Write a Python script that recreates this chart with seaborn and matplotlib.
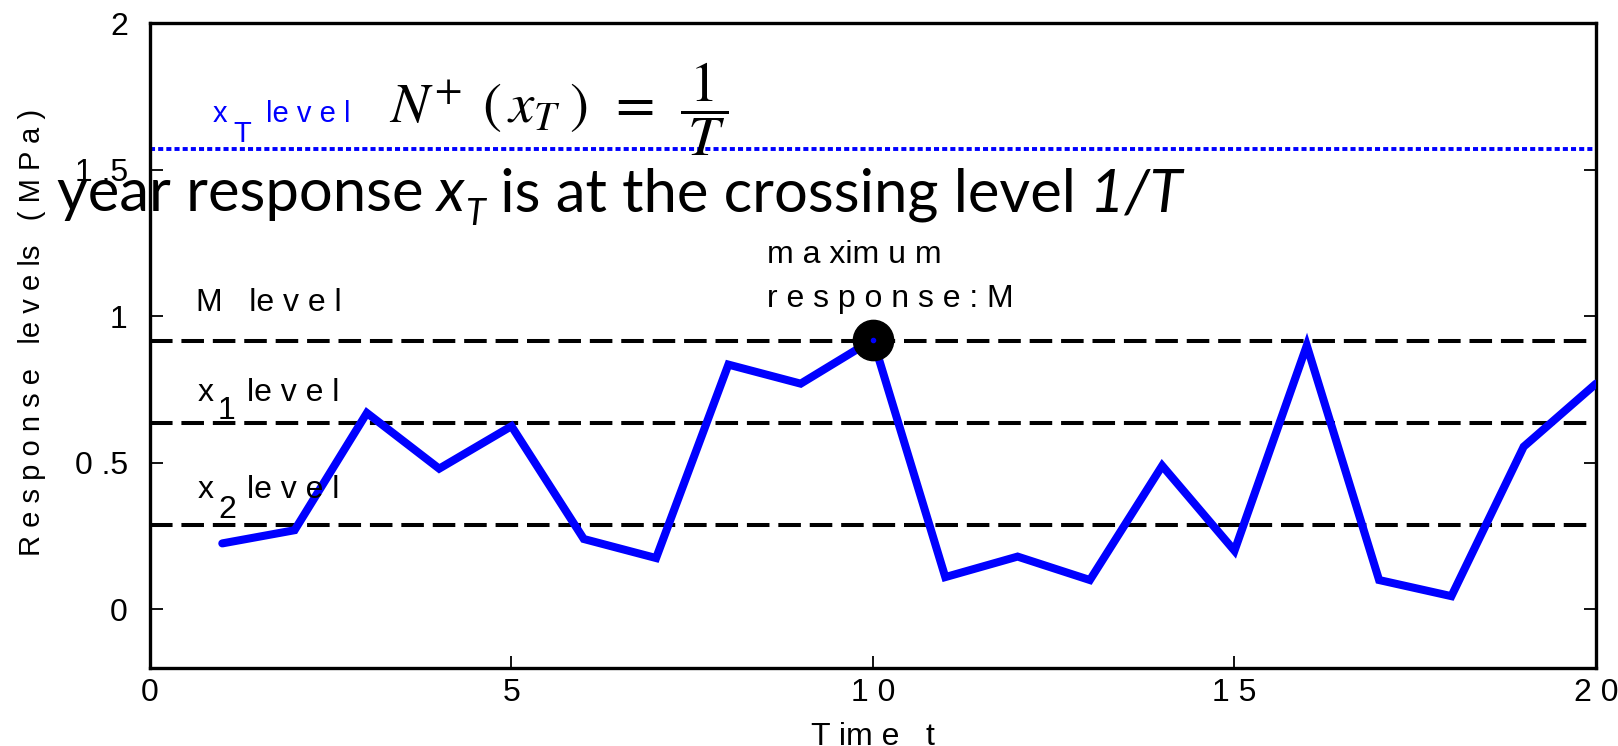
import matplotlib
matplotlib.use("Agg")
import matplotlib.pyplot as plt
import seaborn as sns
import pandas as pd

time_t = list(range(1, 21))
response = [0.225, 0.27, 0.67, 0.48, 0.625, 0.24, 0.175, 0.835, 0.77, 0.92,
            0.11, 0.18, 0.10, 0.49, 0.20, 0.90, 0.10, 0.045, 0.555, 0.77]
level_names = ["M", "x1", "x2"]
level_values = [0.915, 0.637, 0.289]
xT_level = 1.57
max_t = 10
max_val = 0.92
xticks = [0, 5, 10, 15, 20]
xtick_labels = ["0", "5", "1 0", "1 5", "2 0"]
yticks = [0, 0.5, 1, 1.5, 2]
ytick_labels = ["0", "0 .5", "1", "1 .5", "2"]

sns.set_style("ticks")
narrow = ["Liberation Sans", "DejaVu Sans"]
plt.rcParams["font.family"] = narrow
plt.rcParams["mathtext.fontset"] = "stix"
for k in ["text.color", "axes.labelcolor", "xtick.color", "ytick.color", "axes.edgecolor"]:
    plt.rcParams[k] = "black"

fig = plt.figure(figsize=(16.18, 7.46), dpi=100)
ax = fig.add_axes([0.0927, 0.1046, 0.8937, 0.8644])

df = pd.DataFrame({"t": time_t, "r": response})
sns.lineplot(data=df, x="t", y="r", ax=ax, color="#0000ff", lw=5.8,
             solid_joinstyle="miter", zorder=3)

for v in level_values:
    ax.axhline(v, color="black", lw=2.9, linestyle=(0, (5.6, 2.2)), zorder=2)
ax.axhline(xT_level, color="#0000ff", lw=2.8, linestyle=(0, (1.3, 0.8)), zorder=2)

ax.plot([max_t], [max_val], marker="o", markersize=29, color="black", zorder=4)
ax.plot([max_t], [max_val], marker="o", markersize=3, color="#0000ff", zorder=5)

ax.set_xlim(0, 20)
ax.set_ylim(-0.2, 2)
ax.set_xticks(xticks)
ax.set_xticklabels(xtick_labels)
ax.set_yticks(yticks)
ax.set_yticklabels(ytick_labels)
ax.tick_params(axis="both", direction="in", length=9, width=1.3,
               labelsize=23, right=True, top=False)
ax.tick_params(axis="x", pad=7)
ax.tick_params(axis="y", pad=16)
for s in ax.spines.values():
    s.set_linewidth(2.4)
    s.set_visible(True)

ax.set_xlabel("T im e   t", fontsize=23, labelpad=10)
ax.set_ylabel("R e s p o n s e   le v e ls   ( M P a )", fontsize=21)
ax.yaxis.set_label_coords(-0.072, 0.52)

tl = dict(fontsize=23, color="black")
ax.text(0.64, 1.018, "M   le v e l", **tl)
ax.text(0.656, 0.711, "x", **tl)
ax.text(0.94, 0.648, "1", **tl)
ax.text(1.34, 0.711, "le v e l", **tl)
ax.text(0.656, 0.38, "x", **tl)
ax.text(0.94, 0.313, "2", **tl)
ax.text(1.34, 0.38, "le v e l", **tl)
bl = dict(fontsize=21, color="#0000ff")
ax.text(0.87, 1.662, "x", **bl)
ax.text(1.155, 1.595, "T", **bl)
ax.text(1.6, 1.662, "le v e l", **bl)
ax.text(8.53, 1.18, "m a xim u m", **tl)
ax.text(8.53, 1.03, "r e s p o n s e : M", **tl)

ax.text(3.3, 1.66, r"$N^{+}\;\,(\,x_T\;)\;\,=\;\,\dfrac{\,1\,}{\,T\,}$",
        fontsize=41, color="black")

# big overlaid statement, built from pieces placed one after another
big = ["Lato", "DejaVu Sans"]
y0 = 0.717
fs = 43
t1 = fig.text(0.035, y0, "year response", fontsize=fs, family=big, va="baseline")
t2 = ax.annotate(" x", xy=(1, y0), xycoords=(t1, "figure fraction"), fontsize=fs,
                 family=big, style="italic", va="baseline", annotation_clip=False)
t3 = ax.annotate("T", xy=(1, y0 - 0.018), xycoords=(t2, "figure fraction"), fontsize=26,
                 family=big, style="italic", va="baseline", annotation_clip=False)
t4 = ax.annotate(" is at the crossing level", xy=(1, y0), xycoords=(t3, "figure fraction"),
                 fontsize=fs, family=big, va="baseline", annotation_clip=False)
t5 = ax.annotate(" 1/T", xy=(1, y0), xycoords=(t4, "figure fraction"), fontsize=fs,
                 family=big, style="italic", va="baseline", annotation_clip=False)

fig.savefig("out.png", dpi=100)
